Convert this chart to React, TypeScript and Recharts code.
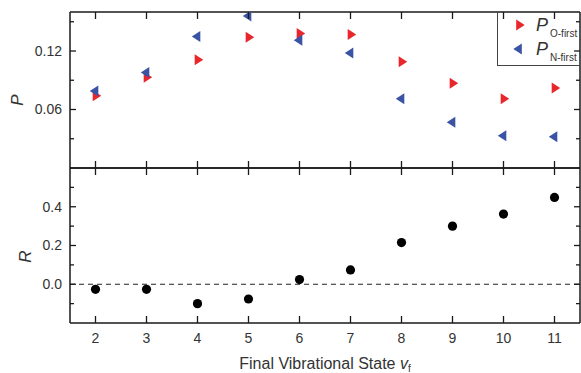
import React from "react";
import { ScatterChart, Scatter, XAxis, YAxis, ReferenceLine, Legend } from "recharts";

// final vibrational state v_f
const states = [2, 3, 4, 5, 6, 7, 8, 9, 10, 11];
const pOFirst = [0.074, 0.093, 0.111, 0.134, 0.138, 0.137, 0.109, 0.087, 0.071, 0.082];
const pNFirst = [0.079, 0.098, 0.135, 0.156, 0.131, 0.118, 0.071, 0.047, 0.033, 0.032];
const rValues = [-0.026, -0.026, -0.1, -0.076, 0.024, 0.074, 0.215, 0.3, 0.362, 0.448];

const pTicks = [0.03, 0.06, 0.09, 0.12, 0.15];
const pMajor = [0.06, 0.12];
const rTicks = [-0.1, 0, 0.1, 0.2, 0.3, 0.4, 0.5];
const rMajor = [0, 0.2, 0.4];

const RED = "#e8262b";
const BLUE = "#3a53a4";
const AXIS = "#1a1a1a";
const TEXT = "#333";
const FONT = "'Liberation Sans', Arial, sans-serif";

const oData = states.map((x, i) => ({ x, y: pOFirst[i] }));
const nData = states.map((x, i) => ({ x, y: pNFirst[i] }));
const rData = states.map((x, i) => ({ x, y: rValues[i] }));

const seriesMeta: Record<string, { color: string; dir: "right" | "left"; order: number }> = {
  "O-first": { color: RED, dir: "right", order: 0 },
  "N-first": { color: BLUE, dir: "left", order: 1 },
};

const isMajor = (v: number, majors: number[]) => majors.some((m) => Math.abs(m - v) < 1e-9);

function triPath(cx: number, cy: number, dir: "right" | "left") {
  const s = dir === "right" ? 1 : -1;
  return `M${cx - 2.8 * s},${cy - 5.5} L${cx + 5.7 * s},${cy} L${cx - 2.8 * s},${cy + 5.5} Z`;
}

const Tri = (dir: "right" | "left", color: string) => (props: any) => {
  const { cx, cy } = props;
  if (cx == null || cy == null) return <g />;
  return <path d={triPath(cx, cy, dir)} fill={color} />;
};

const Dot = (props: any) => {
  const { cx, cy } = props;
  if (cx == null || cy == null) return <g />;
  return <circle cx={cx} cy={cy} r={4.6} fill="#000" />;
};

// y ticks drawn inward, labels outside on the left
const yTick = (side: "left" | "right", majors: number[], digits: number, showText: boolean) => (props: any) => {
  const { x, y, payload } = props;
  const major = isMajor(payload.value, majors);
  const len = major ? 6 : 4;
  const d = side === "left" ? 1 : -1;
  return (
    <g>
      <line x1={x} x2={x + d * len} y1={y} y2={y} stroke={AXIS} strokeWidth={1.3} />
      {showText && major && (
        <text x={x - 8} y={y} dy="0.35em" textAnchor="end" fill={TEXT} fontSize={14} fontFamily={FONT}>
          {payload.value.toFixed(digits)}
        </text>
      )}
    </g>
  );
};

// x ticks drawn inward
const xTick = (dir: "up" | "down", showText: boolean) => (props: any) => {
  const { x, y, payload } = props;
  const d = dir === "down" ? 1 : -1;
  return (
    <g>
      <line x1={x} x2={x} y1={y} y2={y + d * 7} stroke={AXIS} strokeWidth={1.3} />
      {showText && (
        <text x={x} y={y + 10} dy="0.71em" textAnchor="middle" fill={TEXT} fontSize={14} fontFamily={FONT}>
          {payload.value}
        </text>
      )}
    </g>
  );
};

const axisLine = { stroke: AXIS, strokeWidth: 1.5 };
const X_DOMAIN: [number, number] = [1.5, 11.5];

const YLabel = (text: string, dx: number, cyOffset: number) => (props: any) => {
  const vb = props.viewBox || { x: 0, y: 0, width: 70, height: 156 };
  const cx = vb.x + dx;
  const cy = vb.y + vb.height / 2 + cyOffset;
  return (
    <text
      x={cx}
      y={cy}
      textAnchor="middle"
      dominantBaseline="central"
      fontStyle="italic"
      fontSize={17}
      fill={TEXT}
      fontFamily={FONT}
      transform={`rotate(-90, ${cx}, ${cy})`}
    >
      {text}
    </text>
  );
};

const XTitle = (props: any) => {
  const vb = props.viewBox || { x: 70, y: 155, width: 510, height: 50 };
  return (
    <text x={vb.x + vb.width / 2} y={vb.y + 46} textAnchor="middle" fill={TEXT} fontSize={16} fontFamily={FONT}>
      Final Vibrational State{" "}
      <tspan fontStyle="italic">v</tspan>
      <tspan fontSize={10} dy={3}>f</tspan>
    </text>
  );
};

const LegendBox = (props: any) => {
  const payload = [...(props.payload || [])].sort(
    (a: any, b: any) => (seriesMeta[a.value]?.order ?? 0) - (seriesMeta[b.value]?.order ?? 0)
  );
  return (
    <div
      style={{
        width: 83,
        height: 54,
        borderLeft: "1px solid #444",
        borderBottom: "1px solid #444",
        boxSizing: "border-box",
      }}
    >
      <svg width={82} height={53} style={{ display: "block" }}>
        {payload.map((p: any, i: number) => {
          const meta = seriesMeta[p.value] || { color: p.color, dir: "right" };
          const cy = 13 + i * 24;
          return (
            <g key={p.value}>
              <path d={triPath(21, cy, meta.dir)} fill={meta.color} />
              <text x={38} y={cy + 6} fontStyle="italic" fontSize={18} fill={TEXT} fontFamily={FONT}>
                P
              </text>
              <text x={52} y={cy + 12} fontSize={10} fill={TEXT} fontFamily={FONT}>
                {p.value}
              </text>
            </g>
          );
        })}
      </svg>
    </div>
  );
};

export default function App() {
  return (
    <div style={{ position: "absolute", left: 0, top: 0, width: 581, height: 373, background: "#fff", fontFamily: FONT }}>
      <div style={{ position: "absolute", left: 0, top: 0 }}>
        <ScatterChart width={581} height={169} margin={{ top: 11, right: 0, bottom: 0, left: 0 }}>
          <XAxis xAxisId="top" orientation="top" type="number" dataKey="x" domain={X_DOMAIN} ticks={states} interval={0}
            height={1} tickSize={0} tickMargin={0} tickLine={false} axisLine={axisLine} tick={xTick("down", false)} allowDataOverflow />
          <XAxis xAxisId="bottom" orientation="bottom" type="number" dataKey="x" domain={X_DOMAIN} ticks={states} interval={0}
            height={1} tickSize={0} tickMargin={0} tickLine={false} axisLine={axisLine} tick={xTick("up", false)} allowDataOverflow />
          <YAxis yAxisId="left" orientation="left" type="number" dataKey="y" domain={[0, 0.16]} ticks={pTicks} interval={0}
            width={70} tickSize={0} tickMargin={0} tickLine={false} axisLine={axisLine} tick={yTick("left", pMajor, 2, true)}
            label={{ content: YLabel("P", 17, 10) }} allowDataOverflow />
          <YAxis yAxisId="right" orientation="right" type="number" dataKey="y" domain={[0, 0.16]} ticks={pTicks} interval={0}
            width={1} tickSize={0} tickMargin={0} tickLine={false} axisLine={axisLine} tick={yTick("right", pMajor, 2, false)} allowDataOverflow />
          <Scatter name="O-first" data={oData} xAxisId="bottom" yAxisId="left" fill={RED} shape={Tri("right", RED)} isAnimationActive={false} />
          <Scatter name="N-first" data={nData} xAxisId="bottom" yAxisId="left" fill={BLUE} shape={Tri("left", BLUE)} isAnimationActive={false} />
          <Legend layout="horizontal" align="center" verticalAlign="middle" content={LegendBox}
            wrapperStyle={{ top: 12, left: 497, width: 83, height: 54 }} />
        </ScatterChart>
      </div>
      <div style={{ position: "absolute", left: 0, top: 167 }}>
        <ScatterChart width={581} height={206} margin={{ top: 0, right: 0, bottom: 0, left: 0 }}>
          <XAxis xAxisId="top" orientation="top" type="number" dataKey="x" domain={X_DOMAIN} ticks={states} interval={0}
            height={1} tickSize={0} tickMargin={0} tickLine={false} axisLine={axisLine} tick={xTick("down", false)} allowDataOverflow />
          <XAxis xAxisId="bottom" orientation="bottom" type="number" dataKey="x" domain={X_DOMAIN} ticks={states} interval={0}
            height={50} tickSize={0} tickMargin={0} tickLine={false} axisLine={axisLine} tick={xTick("up", true)}
            label={{ content: XTitle }} allowDataOverflow />
          <YAxis yAxisId="left" orientation="left" type="number" dataKey="y" domain={[-0.2, 0.6]} ticks={rTicks} interval={0}
            width={70} tickSize={0} tickMargin={0} tickLine={false} axisLine={axisLine} tick={yTick("left", rMajor, 1, true)}
            label={{ content: YLabel("R", 25, 11) }} allowDataOverflow />
          <YAxis yAxisId="right" orientation="right" type="number" dataKey="y" domain={[-0.2, 0.6]} ticks={rTicks} interval={0}
            width={1} tickSize={0} tickMargin={0} tickLine={false} axisLine={axisLine} tick={yTick("right", rMajor, 1, false)} allowDataOverflow />
          <ReferenceLine y={0} xAxisId="bottom" yAxisId="left" stroke="#222" strokeWidth={1.2} strokeDasharray="5 4" />
          <Scatter name="R" data={rData} xAxisId="bottom" yAxisId="left" fill="#000" shape={Dot} isAnimationActive={false} />
        </ScatterChart>
      </div>
    </div>
  );
}
